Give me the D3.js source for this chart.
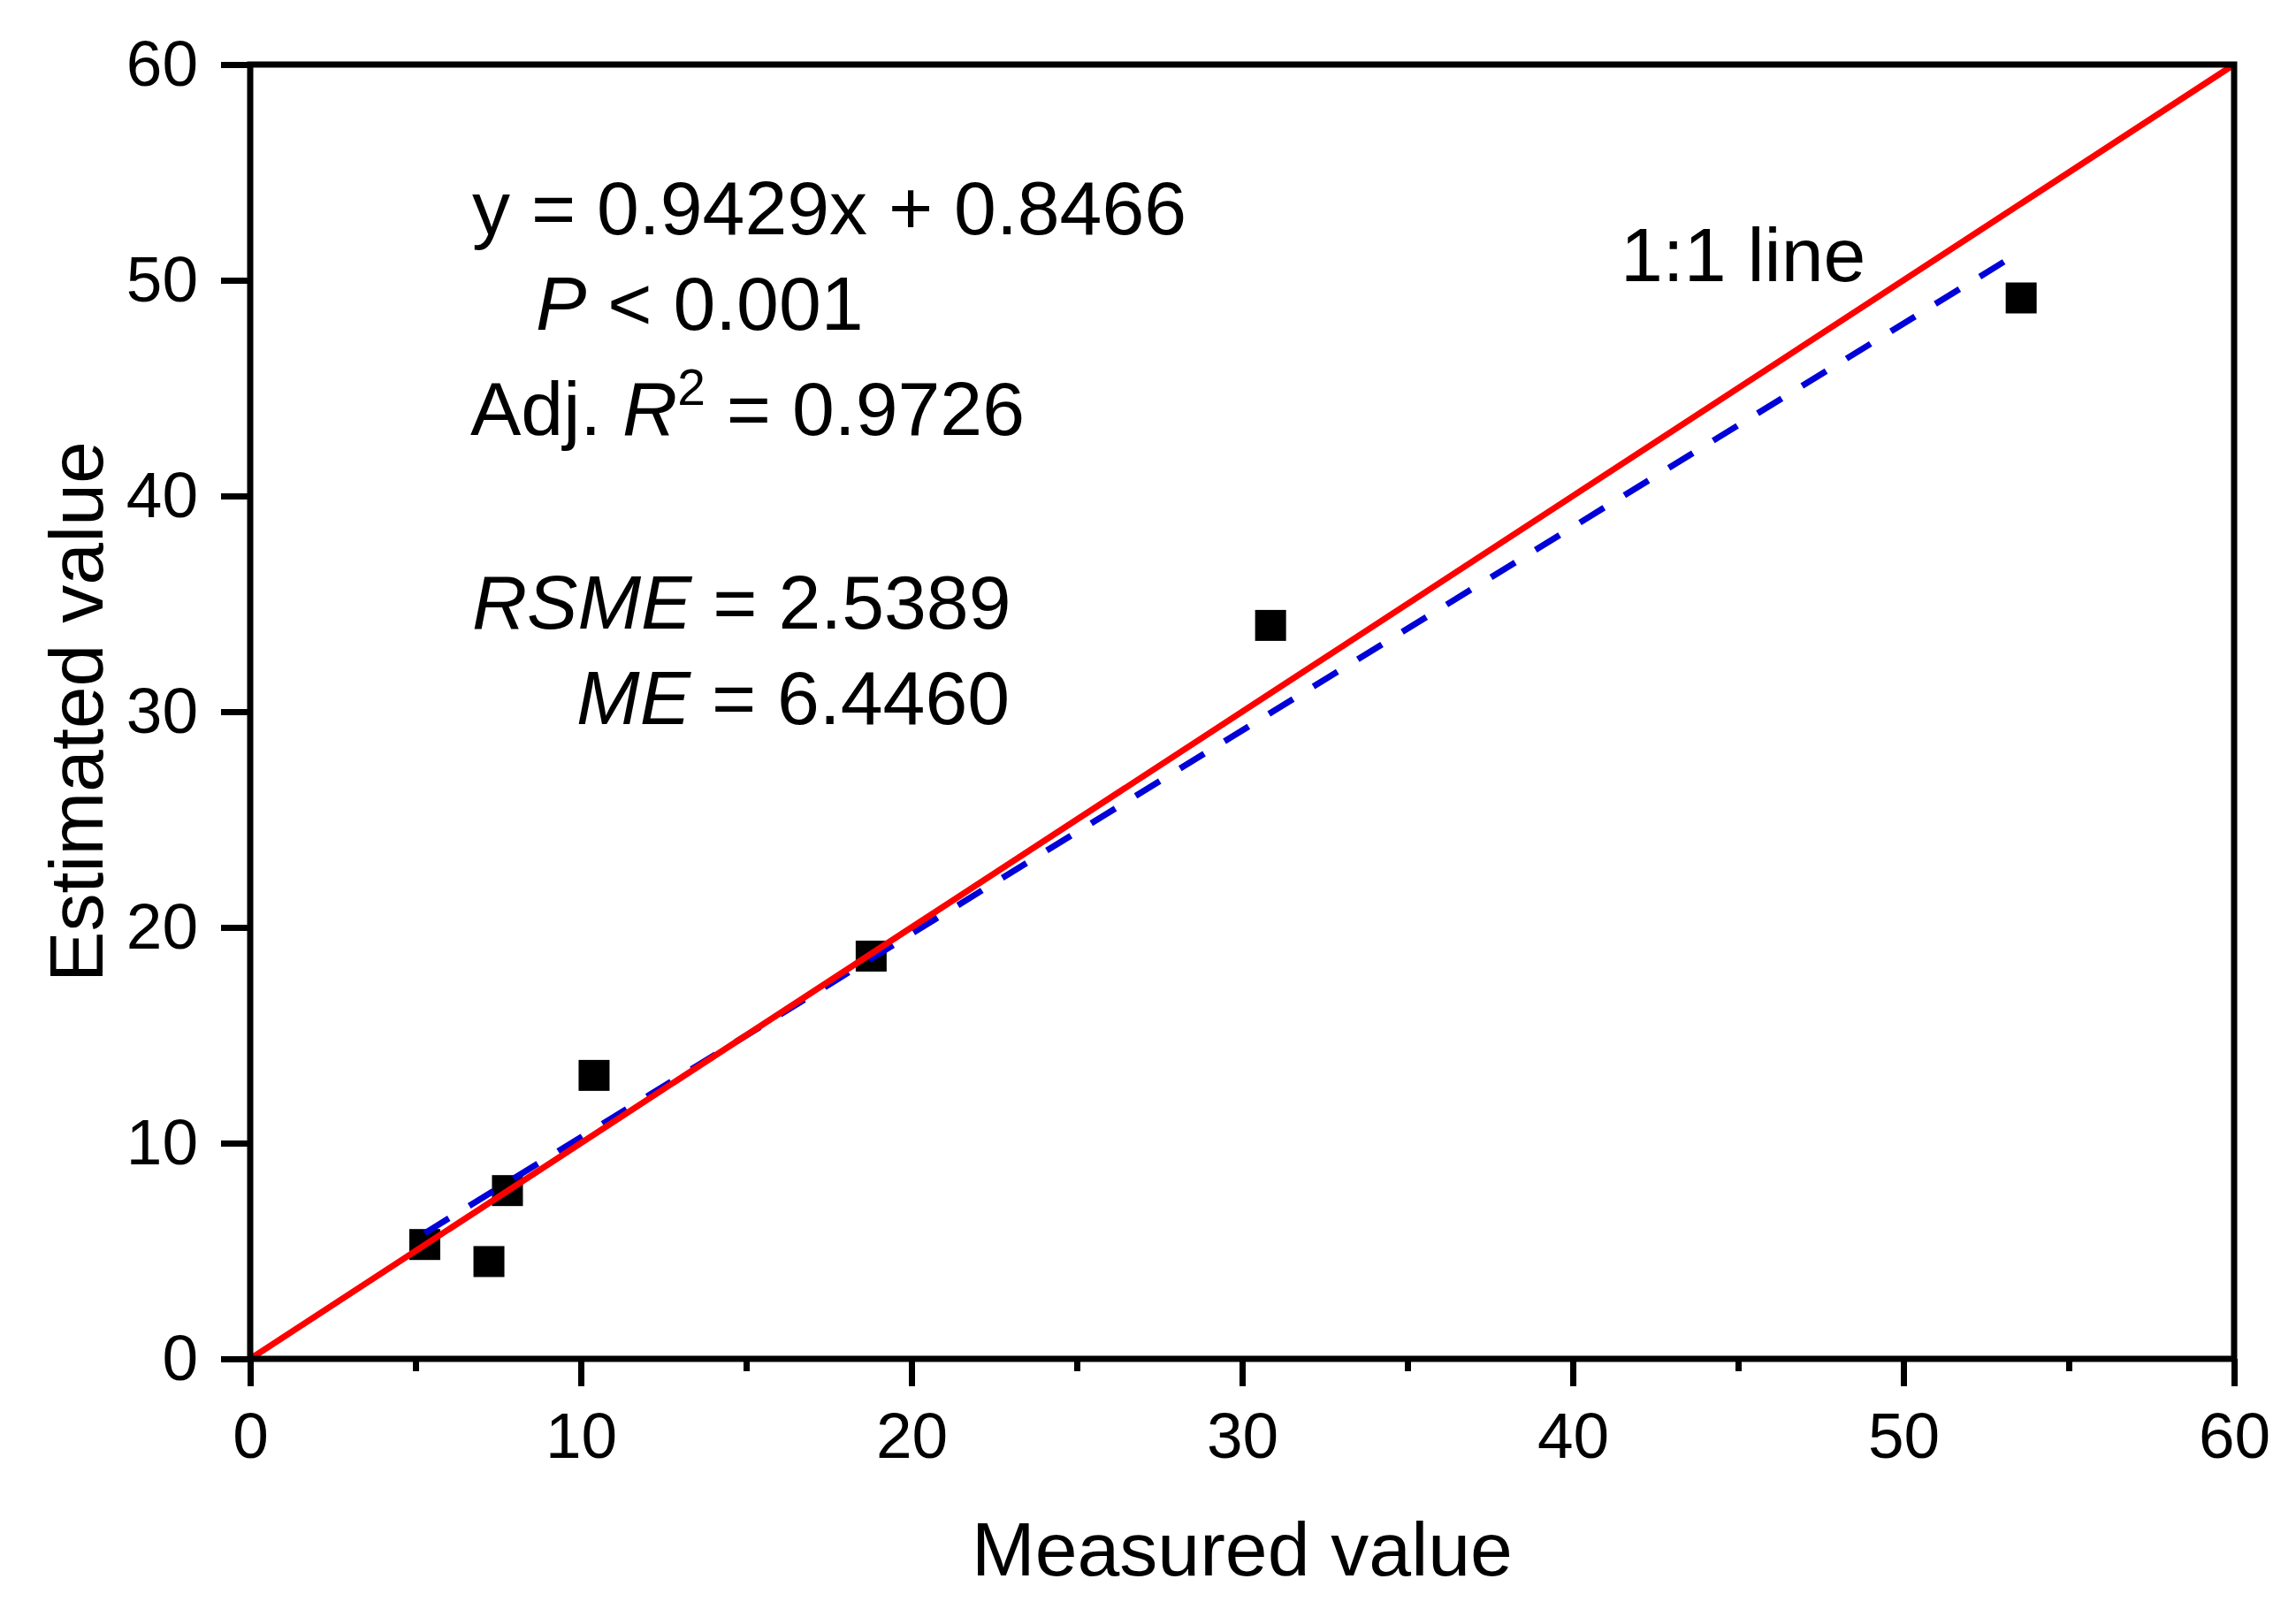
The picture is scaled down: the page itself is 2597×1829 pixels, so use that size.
<!DOCTYPE html>
<html>
<head>
<meta charset="utf-8">
<script src="https://cdn.jsdelivr.net/npm/d3@7"></script>
<style>
  html, body { margin: 0; padding: 0; background: #fff; }
  svg { display: block; }
  text { font-family: "Liberation Sans", Arial, sans-serif; fill: #000; }
</style>
</head>
<body>
<svg id="chart" width="2597" height="1829"></svg>
<script>
// measured vs estimated values
const measured = [5.28, 7.22, 7.78, 10.40, 18.78, 30.86, 53.56];
const estimated = [5.30, 4.51, 7.80, 13.14, 18.67, 34.00, 49.18];

const fitSlope = 0.9429;
const fitIntercept = 0.8466;

const majorTicks = [0, 10, 20, 30, 40, 50, 60];
const minorTicks = [5, 15, 25, 35, 45, 55];

const xTitle = "Measured value";
const yTitle = "Estimated value";
const oneToOneLabel = "1:1 line";

// each stat line is a list of [text, style] runs
const statLines = [
  [["y = 0.9429x + 0.8466", ""]],
  [["P", "i"], [" < 0.001", ""]],
  [["Adj. ", ""], ["R", "i"], ["2", "sup"], [" = 0.9726", "down"]],
  [["RSME", "i"], [" = 2.5389", ""]],
  [["ME", "i"], [" = 6.4460", ""]],
];

const W = 2597, H = 1829;
const plot = { left: 283, right: 2527, top: 73, bottom: 1537 };

const svg = d3.select("#chart");

const x = d3.scaleLinear().domain([0, 60]).range([plot.left, plot.right]);
const y = d3.scaleLinear().domain([0, 60]).range([plot.bottom, plot.top]);

// points
svg.append("g")
  .selectAll("rect")
  .data(measured.map((m, i) => [m, estimated[i]]))
  .join("rect")
  .attr("x", d => x(d[0]) - 17.5)
  .attr("y", d => y(d[1]) - 17.5)
  .attr("width", 35)
  .attr("height", 35)
  .attr("fill", "#000");

// fitted line
const x0 = d3.min(measured), x1 = d3.max(measured);
svg.append("line")
  .attr("x1", x(x0)).attr("y1", y(fitSlope * x0 + fitIntercept))
  .attr("x2", x(x1)).attr("y2", y(fitSlope * x1 + fitIntercept))
  .attr("stroke", "#0000d8")
  .attr("stroke-width", 7)
  .attr("stroke-dasharray", "32,27");

// 1:1 line
svg.append("line")
  .attr("x1", x(0)).attr("y1", y(0))
  .attr("x2", x(60)).attr("y2", y(60))
  .attr("stroke", "#ff0000")
  .attr("stroke-width", 7);

// axes
const styleAxis = g => {
  g.select(".domain").remove();
  g.selectAll(".tick line").attr("stroke", "#000").attr("stroke-width", 7);
  g.selectAll(".tick text")
    .attr("font-size", 73)
    .attr("font-family", "Liberation Sans, Arial, sans-serif")
    .attr("fill", "#000");
};

svg.append("g")
  .attr("transform", `translate(0,${plot.bottom})`)
  .call(d3.axisBottom(x).tickValues(majorTicks).tickSize(31).tickPadding(29).tickFormat(d3.format("d")))
  .call(styleAxis);

svg.append("g")
  .attr("transform", `translate(0,${plot.bottom})`)
  .call(d3.axisBottom(x).tickValues(minorTicks).tickSize(14).tickFormat(""))
  .call(styleAxis);

svg.append("g")
  .attr("transform", `translate(${plot.left},0)`)
  .call(d3.axisLeft(y).tickValues(majorTicks).tickSize(33).tickPadding(26).tickFormat(d3.format("d")))
  .call(styleAxis);

// frame
svg.append("rect")
  .attr("x", plot.left).attr("y", plot.top)
  .attr("width", plot.right - plot.left)
  .attr("height", plot.bottom - plot.top)
  .attr("fill", "none")
  .attr("stroke", "#000")
  .attr("stroke-width", 7);

// axis titles
svg.append("text")
  .attr("x", (plot.left + plot.right) / 2)
  .attr("y", 1782)
  .attr("text-anchor", "middle")
  .attr("font-size", 86)
  .text(xTitle);

svg.append("text")
  .attr("transform", `translate(116,${(plot.top + plot.bottom) / 2}) rotate(-90)`)
  .attr("text-anchor", "middle")
  .attr("font-size", 86)
  .text(yTitle);

// statistics block
const statPos = [[534, 265], [606, 373], [532, 492], [534, 711], [652, 819]];
statLines.forEach((runs, i) => {
  const t = svg.append("text")
    .attr("x", statPos[i][0])
    .attr("y", statPos[i][1])
    .attr("font-size", 86)
    .attr("xml:space", "preserve");
  runs.forEach(([s, style]) => {
    const sp = t.append("tspan").text(s);
    if (style === "i") sp.attr("font-style", "italic");
    if (style === "sup") sp.attr("font-size", 57).attr("dy", -34);
    if (style === "down") sp.attr("dy", 34);
  });
});

svg.append("text")
  .attr("x", 1833)
  .attr("y", 318)
  .attr("font-size", 86)
  .text(oneToOneLabel);
</script>
</body>
</html>
